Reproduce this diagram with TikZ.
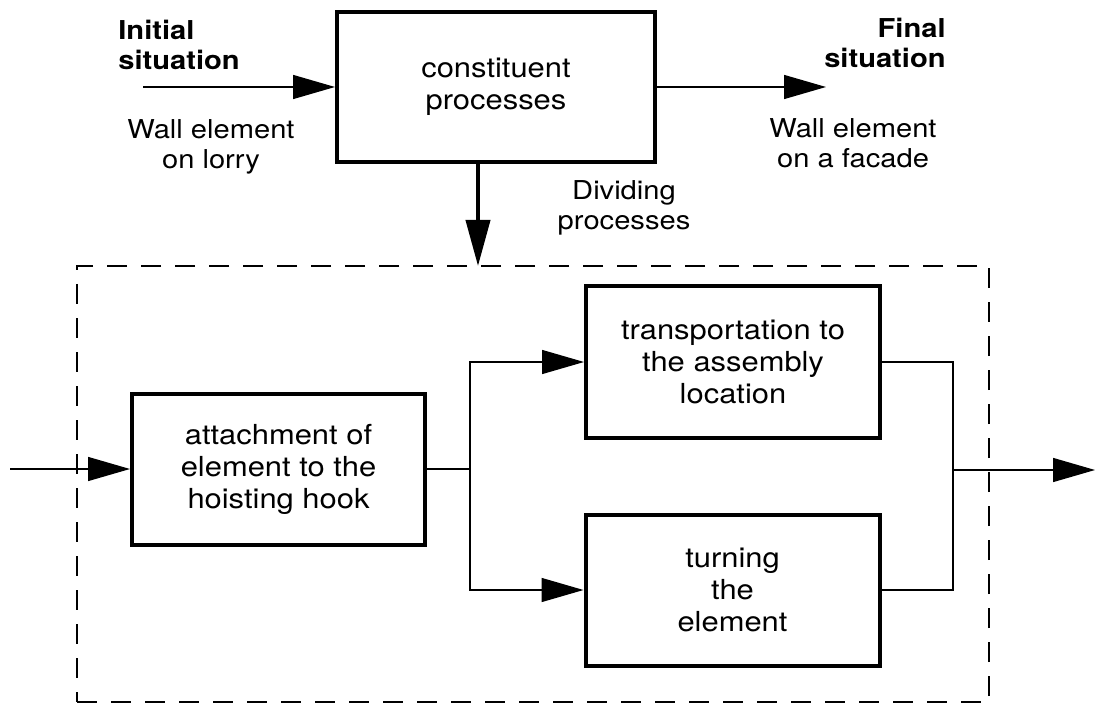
\documentclass[tikz,border=0pt]{standalone}
\usepackage{fontspec}
\setmainfont[FakeStretch=1.12]{TeX Gyre Heros}
\usetikzlibrary{arrows.meta}

\begin{document}
\begin{tikzpicture}[
            x=0.5pt, y=-0.5pt,
            proc-node/.style={rectangle,draw,line width=2pt,align=center,font=\fontsize{13.8}{16}\selectfont},
            text-node/.style={align=center,inner sep=0pt,font=\fontsize{13}{15}\selectfont},
            head-node/.style={inner sep=0pt,font=\bfseries\fontsize{13}{15}\selectfont},
            group-node/.style={rectangle,draw,line width=0.7pt,dash pattern=on 10pt off 7pt},
            flow/.style={line width=0.7pt,-{Triangle[length=21pt,width=12pt]}},
            link/.style={line width=0.7pt},
        ]
            \useasboundingbox (0,0) rectangle (1096,705);

            % constituent level
            \node[proc-node,minimum width=159pt,minimum height=75pt] (cp) at (496,87) {constituent\\processes};
            \coordinate (init) at (143,87);
            \coordinate (fin) at (826,87);
            \node[head-node,align=left,anchor=west] (init-head) at (118,45) {Initial\\situation};
            \node[head-node,align=right,anchor=east] (fin-head) at (946,43) {Final\\situation};
            \node[text-node] (init-text) at (211,147) {Wall element\\on lorry};
            \node[text-node] (fin-text) at (853,143) {Wall element\\on a facade};
            \node[text-node] (div-text) at (624,208) {Dividing\\processes};
            \draw[flow] (init) -- (cp.west);
            \draw[flow] (cp.east) -- (fin);

            % dividing processes
            \node[group-node,minimum width=456pt,minimum height=218pt] (grp) at (533,484) {};
            \coordinate (split) at (478,266);
            \draw[line width=2pt,-{Triangle[length=23pt,width=12pt]}] (cp.south -| split) -- (split);

            \node[proc-node,minimum width=146.5pt,minimum height=75.5pt] (att) at (278.5,469) {attachment of\\element to the\\hoisting hook};
            \node[proc-node,minimum width=147pt,minimum height=76pt] (tr) at (733,362) {transportation to\\the assembly\\location};
            \node[proc-node,minimum width=147pt,minimum height=75.5pt] (tu) at (732.5,590) {turning\\the\\element};

            \coordinate (in) at (10,469);
            \coordinate (fork) at (470,469);
            \coordinate (join) at (953,470);
            \coordinate (out) at (1095,470);
            \draw[flow] (in) -- (att.west);
            \draw[link] (att.east) -- (fork);
            \draw[flow] (fork) |- (tr.west);
            \draw[flow] (fork) |- (tu.west);
            \draw[link] (tr.east) -| (join);
            \draw[link] (tu.east) -| (join);
            \draw[flow] (join) -- (out);
        \end{tikzpicture}
\end{document}
